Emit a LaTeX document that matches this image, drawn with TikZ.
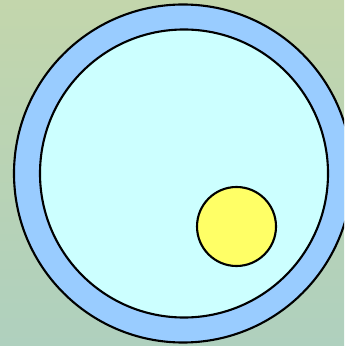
\documentclass[tikz,border=0pt]{standalone}
\usepackage{xcolor}
\usepackage{tikz}
\definecolor{bgTop}{HTML}{C3D6AC}
\definecolor{bgBottom}{HTML}{AFD0BE}
\definecolor{ringBlue}{HTML}{99CCFF}
\definecolor{coreCyan}{HTML}{CCFFFF}
\definecolor{dotYellow}{HTML}{FFFF66}

\begin{document}
\begin{tikzpicture}[x=0.01cm,y=-0.01cm]
  \useasboundingbox (0,0) rectangle (344,346);
  \clip (0,0) rectangle (344,346);
  \shade[top color=bgTop, bottom color=bgBottom] (0,0) rectangle (344,346);

  \draw[black, line width=0.6pt, fill=ringBlue] (183,173.5) circle (169);
  \draw[black, line width=0.6pt, fill=coreCyan] (184,173.5) circle (144);
  \draw[black, line width=0.6pt, fill=dotYellow] (236.5,226.5) circle (39.5);
\end{tikzpicture}
\end{document}
